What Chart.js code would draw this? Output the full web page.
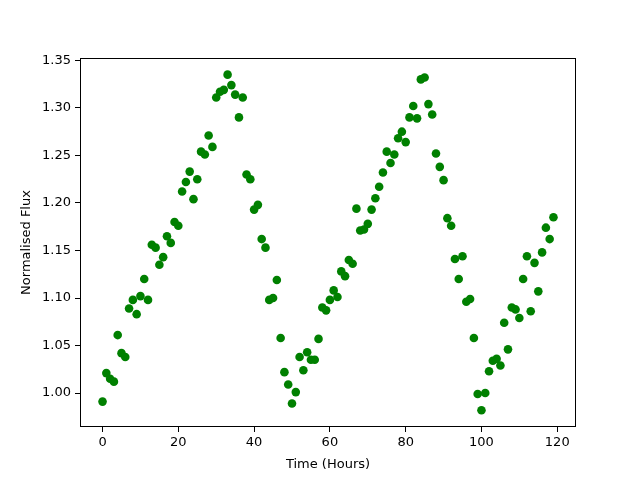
<!DOCTYPE html>
<html>
<head>
<meta charset="utf-8">
<script src="https://cdn.jsdelivr.net/npm/chart.js@4/dist/chart.umd.min.js"></script>
<style>
html,body{margin:0;padding:0;background:#fff;}
#wrap{width:640px;height:480px;}
</style>
</head>
<body>
<div id="wrap"><canvas id="c" width="640" height="480"></canvas></div>
<script>
const timeHours = [];
for (let i = 0; i < 120; i++) timeHours.push(i);
const normalisedFlux = [
  0.991, 1.021, 1.015, 1.012, 1.061, 1.042, 1.038, 1.089, 1.098, 1.083,
  1.102, 1.120, 1.098, 1.156, 1.153, 1.135, 1.143, 1.165, 1.158, 1.180,
  1.176, 1.212, 1.222, 1.233, 1.204, 1.225, 1.254, 1.251, 1.271, 1.259,
  1.311, 1.317, 1.319, 1.335, 1.324, 1.314, 1.290, 1.311, 1.230, 1.225,
  1.193, 1.198, 1.162, 1.153, 1.098, 1.100, 1.119, 1.058, 1.022, 1.009,
  0.989, 1.001, 1.038, 1.024, 1.043, 1.035, 1.035, 1.057, 1.090, 1.087,
  1.098, 1.108, 1.101, 1.128, 1.123, 1.140, 1.136, 1.194, 1.171, 1.172,
  1.178, 1.193, 1.205, 1.217, 1.232, 1.254, 1.242, 1.251, 1.268, 1.275,
  1.264, 1.290, 1.302, 1.289, 1.330, 1.332, 1.304, 1.293, 1.252, 1.238,
  1.224, 1.184, 1.176, 1.141, 1.120, 1.144, 1.096, 1.099, 1.058, 0.999,
  0.982, 1.000, 1.023, 1.034, 1.036, 1.029, 1.074, 1.046, 1.090, 1.088,
  1.079, 1.120, 1.144, 1.086, 1.137, 1.107, 1.148, 1.174, 1.162, 1.185
];
const xTicks = [0, 20, 40, 60, 80, 100, 120];
const yTicks = [1.00, 1.05, 1.10, 1.15, 1.20, 1.25, 1.30, 1.35];
const xLabel = 'Time (Hours)';
const yLabel = 'Normalised Flux';

const points = timeHours.map((t, i) => ({x: t, y: normalisedFlux[i]}));

const frame = {
  id: 'frame',
  afterDraw(chart) {
    const a = chart.chartArea, ctx = chart.ctx;
    ctx.save();
    ctx.strokeStyle = '#000';
    ctx.lineWidth = 1;
    ctx.strokeRect(Math.round(a.left) + 0.5, Math.round(a.top) + 0.5,
                   Math.round(a.right - a.left) - 1, Math.round(a.bottom - a.top) - 1);
    ctx.restore();
  }
};

const font = {family: 'DejaVu Sans', size: 13};
new Chart(document.getElementById('c'), {
  type: 'scatter',
  data: {
    datasets: [{
      data: points,
      backgroundColor: '#008000',
      borderColor: '#008000',
      pointRadius: 4.3,
      pointHoverRadius: 4.3,
      borderWidth: 0
    }]
  },
  options: {
    responsive: false,
    animation: false,
    events: [],
    layout: {padding: {left: 0, right: 64, top: 58, bottom: 0}},
    plugins: {legend: {display: false}, tooltip: {enabled: false}},
    scales: {
      x: {
        type: 'linear',
        min: -5.95, max: 124.95,
        afterFit(s) { s.height = 53; },
        afterBuildTicks(s) { s.ticks = xTicks.map(v => ({value: v})); },
        grid: {display: true, drawOnChartArea: false, drawTicks: true, tickLength: 5, color: '#000'},
        border: {display: false},
        ticks: {color: '#000', font: font, padding: 3, maxRotation: 0, autoSkip: false,
                callback: v => String(v)},
        title: {display: true, text: xLabel, color: '#000', font: font, padding: {top: 2, bottom: 8}}
      },
      y: {
        type: 'linear',
        min: 0.9643, max: 1.3525,
        afterFit(s) { s.width = 80; },
        afterBuildTicks(s) { s.ticks = yTicks.map(v => ({value: v})); },
        grid: {display: true, drawOnChartArea: false, drawTicks: true, tickLength: 5, color: '#000'},
        border: {display: false},
        ticks: {color: '#000', font: font, padding: 4, autoSkip: false,
                callback: v => Number(v).toFixed(2)},
        title: {display: true, text: yLabel, color: '#000', font: font, padding: {top: 19, bottom: 0}}
      }
    }
  },
  plugins: [frame]
});
</script>
</body>
</html>
